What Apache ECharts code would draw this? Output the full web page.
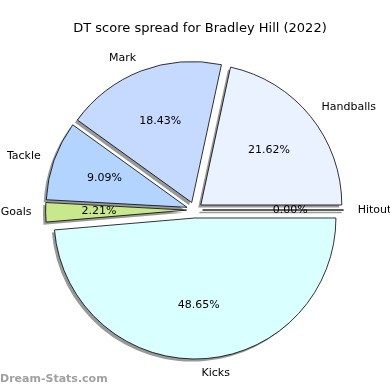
<!DOCTYPE html>
<html>
<head>
<meta charset="utf-8">
<script src="https://cdn.jsdelivr.net/npm/echarts@6/dist/echarts.min.js"></script>
<style>html,body{margin:0;padding:0;background:#fff;}#c{width:390px;height:390px;}</style>
</head>
<body>
<div id="c"></div>
<script>
const categories = ['Handballs', 'Mark', 'Tackle', 'Goals', 'Kicks', 'Hitout'];
const values = [88, 75, 37, 9, 198, 0];
const colors = ['#eaf1ff', '#c6d9ff', '#b3d4ff', '#c8e88c', '#d9ffff', '#ffe0c0'];
const titleText = 'DT score spread for Bradley Hill (2022)';
const watermark = 'Dream-Stats.com';

const total = values.reduce((a, b) => a + b, 0);
const R = 141;
const center = [194.6, 210];
const shadowCenter = [192, 212.6];
const explode = 8;
const font = 'DejaVu Sans';

const chart = echarts.init(document.getElementById('c'), null, {renderer: 'canvas'});

function common(c, radius) {
  return {
    type: 'pie',
    center: c,
    radius: [0, radius],
    startAngle: 0,
    clockwise: false,
    selectedMode: 'multiple',
    selectedOffset: explode,
    avoidLabelOverlap: false,
    minAngle: 0,
    silent: true,
    emphasis: {disabled: true}
  };
}

chart.setOption({
  animation: false,
  backgroundColor: '#ffffff',
  title: {
    text: titleText,
    left: 195,
    textAlign: 'center',
    top: 17,
    textStyle: {fontFamily: font, fontSize: 13, fontWeight: 'normal', color: '#000'}
  },
  graphic: [{
    type: 'text',
    left: 0,
    top: 374,
    style: {text: watermark, fontFamily: font, fontSize: 11, fontWeight: 'bold', fill: '#a0a0a0'}
  }],
  series: [
    Object.assign(common(shadowCenter, R), {
      z: 1,
      itemStyle: {color: 'rgba(0,0,0,0.4)', borderWidth: 0},
      label: {show: false},
      labelLine: {show: false},
      data: categories.map((c, i) => ({name: c, value: values[i], selected: true, itemStyle: {color: 'rgba(0,0,0,0.4)', borderColor: 'rgba(0,0,0,0.4)', borderWidth: values[i] === 0 ? 1.5 : 0}}))
    }),
    Object.assign(common(center, R), {
      z: 2,
      itemStyle: {borderColor: '#000', borderWidth: 0.8},
      label: {
        show: true,
        position: 'outside',
        distanceToLabelLine: 0,
        fontFamily: font,
        fontSize: 11,
        color: '#000',
        formatter: '{b}'
      },
      labelLine: {show: false, length: 0.1 * R, length2: 0},
      data: categories.map((c, i) => ({name: c, value: values[i], selected: true, itemStyle: {color: colors[i]}}))
    }),
    Object.assign(common(center, 1.2 * R), {
      z: 3,
      itemStyle: {color: 'rgba(0,0,0,0)', borderWidth: 0},
      label: {
        show: true,
        position: 'inside',
        fontFamily: font,
        fontSize: 11,
        color: '#000',
        formatter: p => (p.value / total * 100).toFixed(2) + '%'
      },
      labelLine: {show: false},
      data: categories.map((c, i) => ({name: c, value: values[i], selected: true, itemStyle: {color: 'rgba(0,0,0,0)'}}))
    })
  ]
});
</script>
</body>
</html>
